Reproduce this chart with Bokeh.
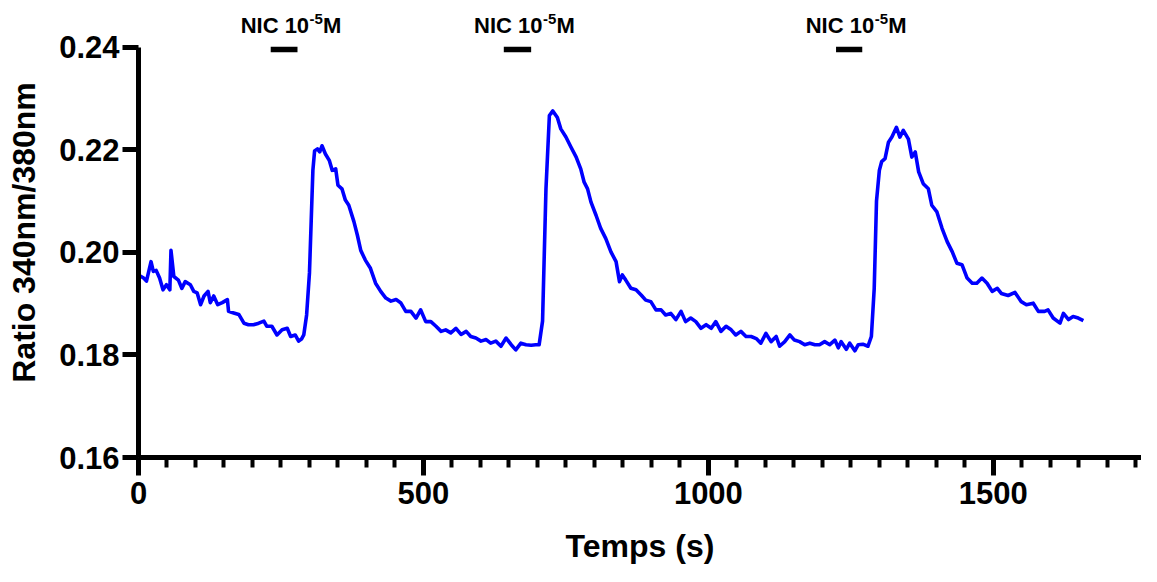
from bokeh.plotting import figure
from bokeh.models import Range1d, SingleIntervalTicker, FixedTicker, ColumnDataSource, PrintfTickFormatter
from bokeh.core.properties import value
from bokeh.embed import file_html
from bokeh.resources import INLINE

# ---- data ----
time_s = [0, 9, 14, 22, 26, 31, 37, 43, 49, 55, 57, 62, 70, 76, 82, 91, 97, 103, 109, 115,
          122, 126, 132, 139, 147, 156, 158, 167, 176, 185, 193, 202, 211, 220, 225, 234, 243, 252, 261, 267,
          275, 281, 286, 290, 295, 300, 303, 306, 309, 314, 318, 322, 328, 335, 340, 346, 350, 357, 363, 369,
          378, 384, 390, 398, 407, 416, 425, 434, 443, 452, 460, 469, 478, 487, 495, 504, 513, 522, 531, 539,
          548, 557, 566, 575, 583, 592, 601, 610, 618, 627, 636, 645, 654, 662, 671, 680, 689, 697, 703, 709,
          715, 721, 727, 735, 741, 750, 759, 768, 776, 782, 788, 794, 803, 811, 820, 829, 838, 844, 849, 855,
          864, 873, 882, 890, 899, 908, 917, 925, 934, 943, 952, 960, 969, 978, 987, 996, 1005, 1013, 1022, 1031,
          1040, 1048, 1057, 1066, 1075, 1084, 1092, 1101, 1110, 1119, 1125, 1134, 1143, 1151, 1160, 1169, 1178, 1187, 1195, 1204,
          1213, 1222, 1228, 1233, 1242, 1248, 1257, 1263, 1271, 1280, 1286, 1291, 1295, 1300, 1304, 1310, 1316, 1322, 1330, 1336,
          1342, 1351, 1357, 1363, 1369, 1377, 1386, 1392, 1401, 1410, 1419, 1428, 1436, 1445, 1454, 1463, 1471, 1480, 1489, 1498,
          1507, 1514, 1526, 1538, 1549, 1558, 1570, 1579, 1590, 1596, 1605, 1617, 1623, 1632, 1640, 1649, 1658]
ratio = [0.1956, 0.1950, 0.1944, 0.1982, 0.1963, 0.1965, 0.1950, 0.1927, 0.1937, 0.1927, 0.2004, 0.1953, 0.1946, 0.1930, 0.1943, 0.1937, 0.1924, 0.1921, 0.1898, 0.1915,
         0.1924, 0.1902, 0.1915, 0.1898, 0.1902, 0.1908, 0.1885, 0.1882, 0.1879, 0.1862, 0.1859, 0.1859, 0.1862, 0.1866, 0.1856, 0.1856, 0.1839, 0.1849, 0.1852, 0.1836,
         0.1839, 0.1827, 0.1831, 0.1839, 0.1878, 0.1960, 0.2060, 0.2160, 0.2198, 0.2202, 0.2196, 0.2208, 0.2192, 0.2179, 0.2160, 0.2163, 0.2131, 0.2124, 0.2102, 0.2092,
         0.2060, 0.2034, 0.2004, 0.1985, 0.1969, 0.1940, 0.1924, 0.1911, 0.1905, 0.1908, 0.1902, 0.1885, 0.1885, 0.1872, 0.1888, 0.1865, 0.1865, 0.1856, 0.1846, 0.1849,
         0.1843, 0.1852, 0.1840, 0.1846, 0.1836, 0.1833, 0.1827, 0.1830, 0.1823, 0.1827, 0.1817, 0.1833, 0.1820, 0.1810, 0.1823, 0.1820, 0.1819, 0.1820, 0.1820, 0.1866,
         0.2124, 0.2267, 0.2276, 0.2263, 0.2241, 0.2225, 0.2205, 0.2186, 0.2163, 0.2137, 0.2124, 0.2098, 0.2072, 0.2047, 0.2027, 0.2001, 0.1982, 0.1943, 0.1956, 0.1946,
         0.1930, 0.1927, 0.1917, 0.1907, 0.1904, 0.1888, 0.1888, 0.1878, 0.1881, 0.1869, 0.1885, 0.1865, 0.1872, 0.1865, 0.1852, 0.1859, 0.1852, 0.1865, 0.1846, 0.1856,
         0.1849, 0.1839, 0.1846, 0.1836, 0.1836, 0.1832, 0.1823, 0.1842, 0.1826, 0.1836, 0.1817, 0.1826, 0.1839, 0.1829, 0.1826, 0.1820, 0.1823, 0.1820, 0.1820, 0.1826,
         0.1820, 0.1829, 0.1814, 0.1826, 0.1811, 0.1823, 0.1808, 0.1820, 0.1821, 0.1817, 0.1836, 0.1930, 0.2100, 0.2160, 0.2177, 0.2183, 0.2215, 0.2225, 0.2244, 0.2225,
         0.2238, 0.2221, 0.2186, 0.2196, 0.2157, 0.2134, 0.2124, 0.2092, 0.2079, 0.2047, 0.2021, 0.2001, 0.1979, 0.1976, 0.1950, 0.1940, 0.1940, 0.1950, 0.1940, 0.1924,
         0.1930, 0.1920, 0.1916, 0.1922, 0.1904, 0.1898, 0.1901, 0.1885, 0.1885, 0.1888, 0.1872, 0.1862, 0.1881, 0.1869, 0.1875, 0.1872, 0.1867]

nic_start = [232, 641, 1224]
nic_end = [279, 689, 1270]
nic_text = ["NIC 10", "NIC 10", "NIC 10"]
nic_sup = ["-5", "-5", "-5"]
nic_unit = ["M", "M", "M"]

y_ticks = [0.16, 0.18, 0.20, 0.22, 0.24]
x_tick_interval = 500

FONT = "Liberation Sans"

p = figure(width=1141, height=566,
           x_range=Range1d(0, 1760), y_range=Range1d(0.16, 0.24777),
           output_backend="svg", toolbar_location=None,
           min_border_left=138, min_border_right=0, min_border_top=7, min_border_bottom=107)
p.outline_line_color = None
p.xgrid.visible = False
p.ygrid.visible = False
p.background_fill_color = "white"
p.border_fill_color = "white"

# trace
p.line(time_s, ratio, line_color="#0000FF", line_width=3.6, line_join="round")

# stimulation bars
bar_y = 0.2396
p.segment(x0=nic_start, y0=[bar_y] * len(nic_start), x1=nic_end, y1=[bar_y] * len(nic_end),
          line_color="black", line_width=5.5, line_cap="butt")

centers = [(a + b) / 2 for a, b in zip(nic_start, nic_end)]
src = ColumnDataSource(dict(x=centers, y=[0.24428] * 3, ys=[0.24555] * 3,
                            main=nic_text, sup=nic_sup, unit=nic_unit))
p.text(x="x", y="y", text="main", source=src, x_offset=25, text_align="right",
       text_baseline="middle", text_font=value(FONT), text_font_style="bold",
       text_font_size="22px", text_color="black")
p.text(x="x", y="ys", text="sup", source=src, x_offset=25.5, text_align="left",
       text_baseline="middle", text_font=value(FONT), text_font_style="bold",
       text_font_size="15px", text_color="black")
p.text(x="x", y="y", text="unit", source=src, x_offset=39, text_align="left",
       text_baseline="middle", text_font=value(FONT), text_font_style="bold",
       text_font_size="22px", text_color="black")

# x axis
xa = p.xaxis[0]
xa.ticker = SingleIntervalTicker(interval=x_tick_interval, num_minor_ticks=10)
xa.axis_label = "Temps (s)"
xa.axis_label_text_font = FONT
xa.axis_label_text_font_style = "bold"
xa.axis_label_text_font_size = "32px"
xa.axis_label_text_color = "black"
xa.axis_label_standoff = 21
xa.major_label_text_font = FONT
xa.major_label_text_font_style = "bold"
xa.major_label_text_font_size = "31px"
xa.major_label_text_color = "black"
xa.major_label_standoff = 6
xa.axis_line_width = 5
xa.axis_line_color = "black"
xa.major_tick_line_width = 5
xa.major_tick_line_color = "black"
xa.major_tick_out = 18
xa.major_tick_in = 0
xa.minor_tick_line_width = 4
xa.minor_tick_line_color = "black"
xa.minor_tick_out = 10
xa.minor_tick_in = 0

# y axis
ya = p.yaxis[0]
ya.ticker = FixedTicker(ticks=y_ticks)
ya.formatter = PrintfTickFormatter(format="%.2f")
ya.bounds = (0.16, 0.24)
ya.axis_label = "Ratio 340nm/380nm"
ya.axis_label_text_font = FONT
ya.axis_label_text_font_style = "bold"
ya.axis_label_text_font_size = "32px"
ya.axis_label_text_color = "black"
ya.axis_label_standoff = 14
ya.major_label_text_font = FONT
ya.major_label_text_font_style = "bold"
ya.major_label_text_font_size = "31px"
ya.major_label_text_color = "black"
ya.major_label_standoff = 3
ya.axis_line_width = 5
ya.axis_line_color = "black"
ya.major_tick_line_width = 5
ya.major_tick_line_color = "black"
ya.major_tick_out = 16
ya.major_tick_in = 0
ya.minor_tick_line_color = None

open("out.html", "w").write(file_html(p, INLINE))
